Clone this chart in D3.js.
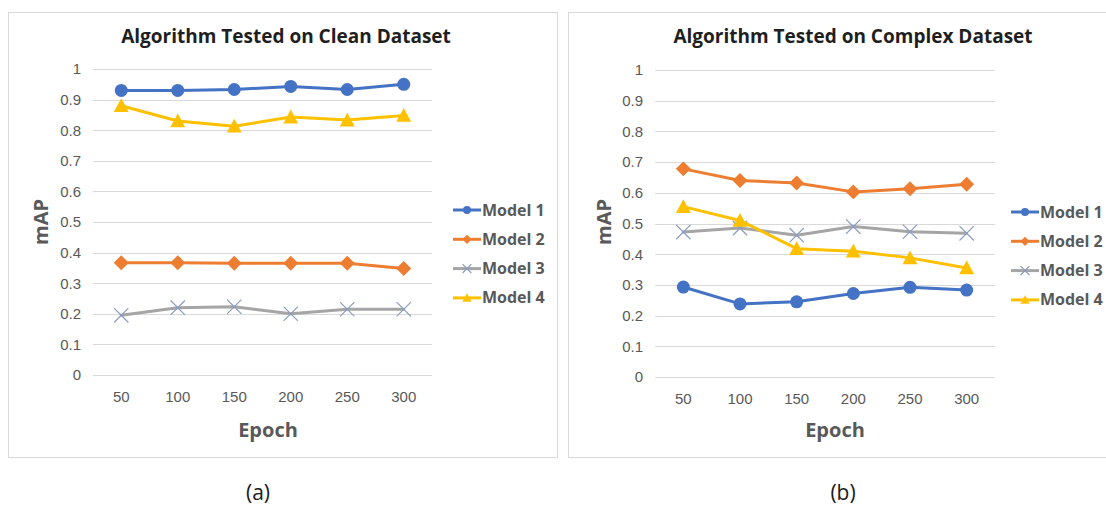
<!DOCTYPE html>
<html>
<head>
<meta charset="utf-8">
<script src="https://cdn.jsdelivr.net/npm/d3@7"></script>
<style>
  html, body { margin: 0; padding: 0; background: #fff; }
  svg { display: block; font-family: "Open Sans", "Liberation Sans", sans-serif; }
</style>
</head>
<body>
<svg id="chart" width="1106" height="508"></svg>
<script>
// values
var epochs = ['50', '100', '150', '200', '250', '300'];
var modelNames = ['Model 1', 'Model 2', 'Model 3', 'Model 4'];
var yTickValues = [0, 0.1, 0.2, 0.3, 0.4, 0.5, 0.6, 0.7, 0.8, 0.9, 1];
var yTickLabels = ['0', '0.1', '0.2', '0.3', '0.4', '0.5', '0.6', '0.7', '0.8', '0.9', '1'];

// (a) clean dataset
var cleanModel1 = [0.930, 0.930, 0.933, 0.943, 0.933, 0.950];
var cleanModel2 = [0.367, 0.367, 0.365, 0.365, 0.365, 0.348];
var cleanModel3 = [0.195, 0.220, 0.223, 0.200, 0.215, 0.215];
var cleanModel4 = [0.880, 0.830, 0.813, 0.843, 0.833, 0.848];

// (b) complex dataset
var complexModel1 = [0.293, 0.238, 0.245, 0.272, 0.292, 0.283];
var complexModel2 = [0.678, 0.640, 0.632, 0.603, 0.613, 0.628];
var complexModel3 = [0.472, 0.485, 0.462, 0.490, 0.473, 0.468];
var complexModel4 = [0.555, 0.510, 0.418, 0.410, 0.388, 0.355];

var colors = ['#4472c4', '#ed7d31', '#a5a5a5', '#ffc000'];
var markers = ['circle', 'diamond', 'x', 'triangle'];
var textColor = '#595959';

var svg = d3.select('#chart');

function drawMarker(g, type, x, y, size, color)
{
	if (type === 'circle') {
		g.append('circle').attr('cx', x).attr('cy', y).attr('r', size).attr('fill', color);
	} else if (type === 'diamond') {
		var s = size * 1.15;
		g.append('path')
			.attr('d', 'M' + x + ',' + (y - s) + 'L' + (x + s) + ',' + y + 'L' + x + ',' + (y + s) + 'L' + (x - s) + ',' + y + 'Z')
			.attr('fill', color);
	} else if (type === 'triangle') {
		var t = size * 1.15;
		g.append('path')
			.attr('d', 'M' + x + ',' + (y - t) + 'L' + (x + t) + ',' + (y + t * 0.85) + 'L' + (x - t) + ',' + (y + t * 0.85) + 'Z')
			.attr('fill', color);
	} else {
		var k = size * 1.1;
		g.append('path')
			.attr('d', 'M' + (x - k) + ',' + (y - k) + 'L' + (x + k) + ',' + (y + k) + 'M' + (x + k) + ',' + (y - k) + 'L' + (x - k) + ',' + (y + k))
			.attr('stroke', '#8a9cc0').attr('stroke-width', 1.2).attr('fill', 'none');
	}
}

function drawPanel(opt, series)
{
	var g = svg.append('g');

	// chart area frame
	g.append('rect')
		.attr('x', opt.box[0] + 0.5).attr('y', opt.box[1] + 0.5)
		.attr('width', opt.box[2] - opt.box[0]).attr('height', opt.box[3] - opt.box[1])
		.attr('fill', '#fff').attr('stroke', '#d9d9d9');

	var x = d3.scaleBand().domain(epochs).range([opt.plot[0], opt.plot[1]]);
	var y = d3.scaleLinear().domain([0, 1]).range([opt.plot[3], opt.plot[2]]);
	var cx = function(i) { return x(epochs[i]) + x.bandwidth() / 2; };

	// gridlines
	g.selectAll('line.grid')
		.data(yTickValues)
		.enter().append('line')
			.attr('x1', opt.plot[0]).attr('x2', opt.plot[1])
			.attr('y1', function(d) { return Math.round(y(d)) + 0.5; })
			.attr('y2', function(d) { return Math.round(y(d)) + 0.5; })
			.attr('stroke', '#d9d9d9');

	var yAxis = d3.axisLeft(y).tickValues(yTickValues)
		.tickFormat(function(d, i) { return yTickLabels[i]; })
		.tickSize(0).tickPadding(12);
	var ya = g.append('g').attr('transform', 'translate(' + opt.plot[0] + ',0)').call(yAxis);
	ya.select('.domain').remove();
	ya.selectAll('text').attr('fill', textColor).style('font-size', '15px').style('font-family', 'inherit');

	var xAxis = d3.axisBottom(x).tickSize(0).tickPadding(16);
	var xa = g.append('g').attr('transform', 'translate(0,' + opt.plot[3] + ')').call(xAxis);
	xa.select('.domain').remove();
	xa.selectAll('text').attr('fill', textColor).style('font-size', '15px').style('font-family', 'inherit');

	// series
	var line = d3.line().x(function(d, i) { return cx(i); }).y(function(d) { return y(d); });
	series.forEach(function(vals, s)
	{
		g.append('path').datum(vals)
			.attr('d', line).attr('fill', 'none')
			.attr('stroke', colors[s]).attr('stroke-width', 3)
			.attr('stroke-linejoin', 'round').attr('stroke-linecap', 'round');
		var mg = g.append('g');
		vals.forEach(function(v, i) { drawMarker(mg, markers[s], cx(i), y(v), 6.5, colors[s]); });
	});

	// titles
	g.append('text')
		.attr('x', opt.titleX).attr('y', 43)
		.attr('text-anchor', 'middle')
		.style('font-size', '19px').style('font-weight', 'bold').attr('fill', '#1f1f1f')
		.text(opt.title);
	g.append('text')
		.attr('x', opt.epochX).attr('y', 437)
		.attr('text-anchor', 'middle')
		.style('font-size', '20px').style('font-weight', 'bold').attr('fill', textColor)
		.text('Epoch');
	g.append('text')
		.attr('transform', 'translate(' + opt.mapX + ',222) rotate(-90)')
		.attr('text-anchor', 'middle')
		.style('font-size', '20px').style('font-weight', 'bold').attr('fill', textColor)
		.text('mAP');

	// legend
	var lg = g.append('g');
	modelNames.forEach(function(name, s)
	{
		var ly = opt.legend[1] + s * 29.3;
		lg.append('line')
			.attr('x1', opt.legend[0]).attr('x2', opt.legend[0] + 28)
			.attr('y1', ly).attr('y2', ly)
			.attr('stroke', colors[s]).attr('stroke-width', 3);
		drawMarker(lg, markers[s], opt.legend[0] + 14, ly, 4, colors[s]);
		lg.append('text')
			.attr('x', opt.legend[0] + 29).attr('y', ly + 5.5)
			.style('font-size', '16px').style('font-weight', 'bold').attr('fill', textColor)
			.text(name);
	});

	// caption under the frame
	svg.append('text')
		.attr('x', opt.captionX).attr('y', 500)
		.attr('text-anchor', 'middle')
		.style('font-size', '21px').attr('fill', '#1a1a1a')
		.text(opt.caption);
}

drawPanel({
	box: [8, 12, 557, 457], plot: [93, 432, 69, 375],
	title: 'Algorithm Tested on Clean Dataset', titleX: 286,
	epochX: 268, mapX: 48, legend: [453, 210], caption: '(a)', captionX: 258
}, [cleanModel1, cleanModel2, cleanModel3, cleanModel4]);

drawPanel({
	box: [568, 12, 1140, 457], plot: [655, 995, 70, 377],
	title: 'Algorithm Tested on Complex Dataset', titleX: 853,
	epochX: 835, mapX: 611, legend: [1011, 212], caption: '(b)', captionX: 843
}, [complexModel1, complexModel2, complexModel3, complexModel4]);
</script>
</body>
</html>
